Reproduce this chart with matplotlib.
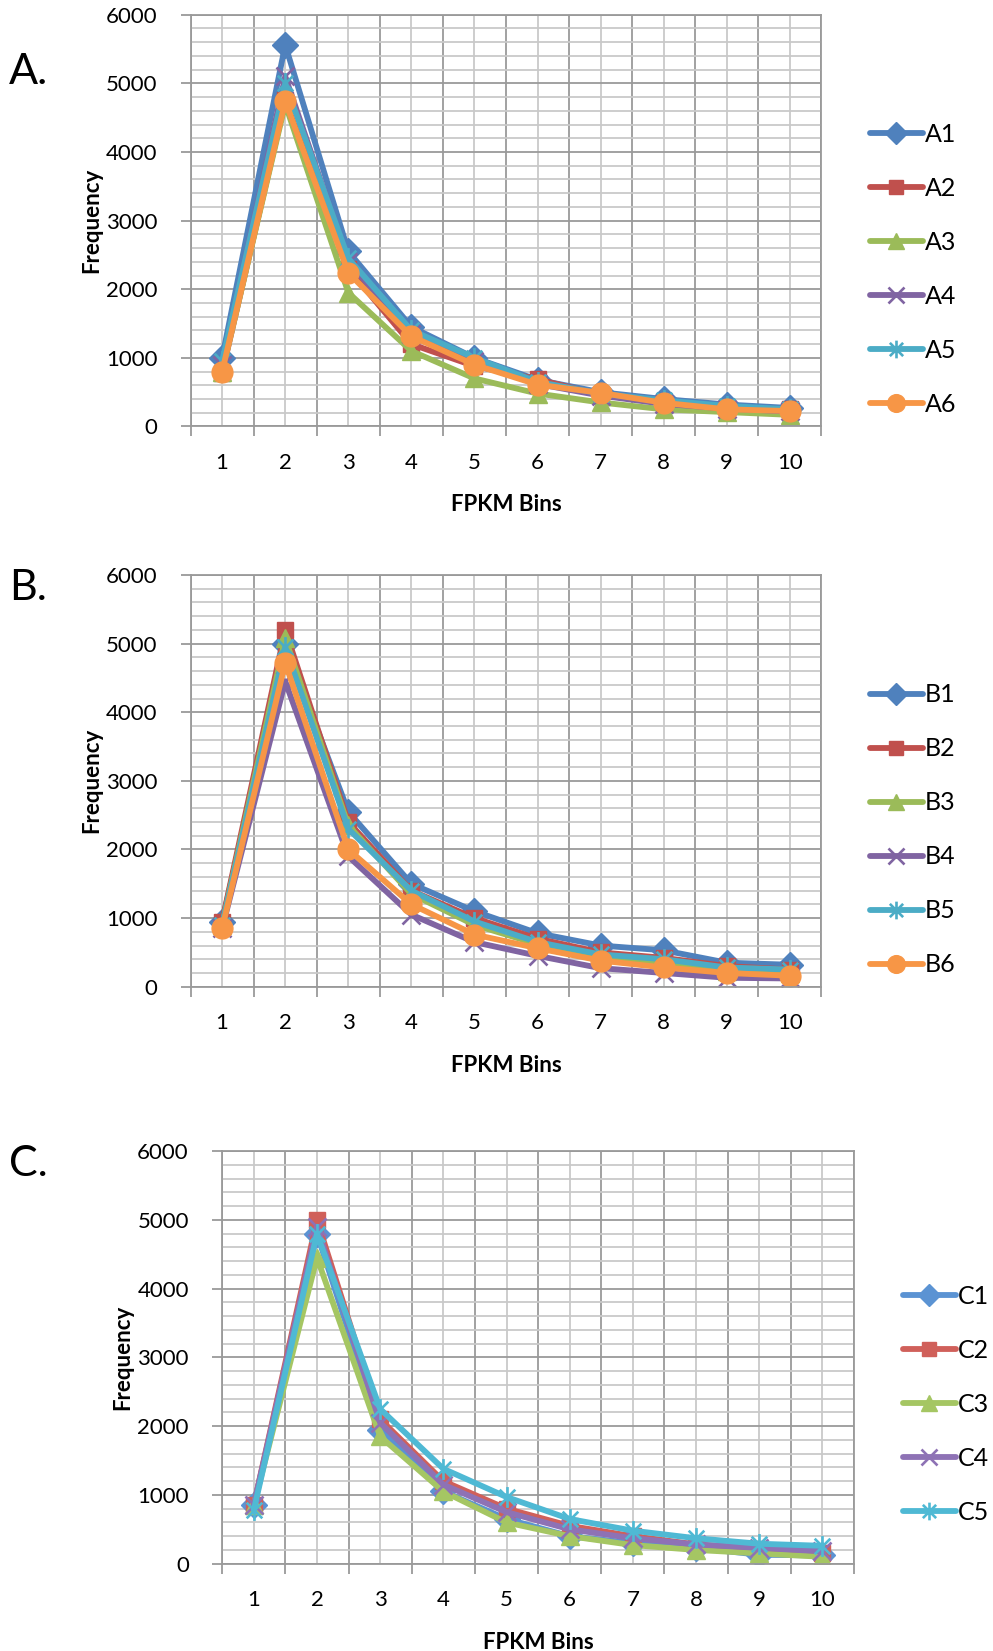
import matplotlib
matplotlib.use("Agg")
import matplotlib.pyplot as plt
from matplotlib.path import Path
from matplotlib.ticker import MultipleLocator, FixedLocator

plt.rcParams['font.family'] = ['Lato', 'DejaVu Sans']

bins = [1, 2, 3, 4, 5, 6, 7, 8, 9, 10]
bin_labels = ["1", "2", "3", "4", "5", "6", "7", "8", "9", "10"]

# Panel A
A1 = [1000, 5560, 2550, 1450, 1000, 680, 500, 400, 320, 270]
A2 = [780, 4750, 2300, 1200, 880, 690, 460, 340, 260, 250]
A3 = [800, 4700, 1950, 1100, 700, 480, 350, 250, 210, 170]
A4 = [900, 5100, 2400, 1350, 950, 620, 450, 330, 260, 220]
A5 = [950, 5000, 2450, 1400, 1000, 650, 480, 380, 300, 250]
A6 = [800, 4740, 2240, 1315, 900, 610, 490, 345, 250, 225]
labels_A = ["A1", "A2", "A3", "A4", "A5", "A6"]

# Panel B
B1 = [950, 5000, 2550, 1500, 1100, 780, 600, 530, 350, 320]
B2 = [950, 5200, 2400, 1400, 1000, 700, 500, 420, 300, 250]
B3 = [900, 5080, 2350, 1350, 900, 620, 430, 330, 230, 200]
B4 = [850, 4450, 1900, 1050, 650, 450, 270, 200, 130, 120]
B5 = [900, 4950, 2300, 1400, 950, 650, 470, 400, 280, 250]
B6 = [850, 4720, 2000, 1200, 760, 560, 380, 280, 200, 160]
labels_B = ["B1", "B2", "B3", "B4", "B5", "B6"]

# Panel C
C1 = [850, 4800, 1950, 1050, 650, 400, 300, 230, 130, 120]
C2 = [850, 5000, 2100, 1200, 800, 550, 400, 280, 220, 150]
C3 = [850, 4450, 1850, 1050, 600, 400, 270, 200, 150, 100]
C4 = [850, 4900, 2050, 1150, 750, 500, 370, 280, 230, 180]
C5 = [780, 4800, 2250, 1380, 970, 650, 480, 370, 290, 260]
labels_C = ["C1", "C2", "C3", "C4", "C5"]

colors_AB = ["#4F81BD", "#C0504D", "#9BBB59", "#8064A2", "#4BACC6", "#F79646"]
colors_C = ["#5B93D3", "#D0605A", "#A5C663", "#8E72B5", "#4FB9D4"]

# asterisk marker: vertical bar plus an X
star = Path([(0, -1), (0, 1), (-0.75, -0.75), (0.75, 0.75), (-0.75, 0.75), (0.75, -0.75)],
            [Path.MOVETO, Path.LINETO, Path.MOVETO, Path.LINETO, Path.MOVETO, Path.LINETO])
markers = ["D", "s", "^", "x", star, "o"]
msizes = [13, 12, 13, 13, 15, 15]

W, H = 993, 1651
fig = plt.figure(figsize=(W / 100, H / 100), dpi=100)

MAJ = "#9a9a9a"
MIN = "#c9c9c9"
FS = 16
LFS = 18


def setup(ax):
    ax.set_xlim(0.5, 10.5)
    ax.set_ylim(0, 6000)
    ax.set_xticks(bins)
    ax.set_xticklabels(bin_labels)
    ax.xaxis.set_minor_locator(FixedLocator([b - 0.5 for b in bins] + [10.5]))
    ax.yaxis.set_major_locator(MultipleLocator(1000))
    ax.yaxis.set_minor_locator(MultipleLocator(200))
    ax.tick_params(axis='x', which='major', length=0, pad=19, labelsize=FS)
    ax.tick_params(axis='x', which='minor', length=7, width=1.3, color=MAJ)
    ax.tick_params(axis='y', which='major', length=7, width=1.3, color=MAJ, pad=17, labelsize=FS)
    ax.tick_params(axis='y', which='minor', length=0)
    ax.grid(which='minor', axis='x', color=MAJ, linewidth=1.3)
    ax.grid(which='major', axis='x', color=MIN, linewidth=1.3)
    ax.grid(which='major', axis='y', color=MAJ, linewidth=1.3)
    ax.grid(which='minor', axis='y', color=MIN, linewidth=1.3)
    ax.set_axisbelow(True)
    for s in ax.spines.values():
        s.set_color(MAJ)
        s.set_linewidth(1.3)
    ax.set_xlabel("FPKM Bins", fontsize=FS, fontweight='bold')
    ax.xaxis.set_label_coords(0.5, -0.165)
    ax.set_ylabel("Frequency", fontsize=FS, fontweight='bold')
    ax.yaxis.set_label_coords(-0.140, 0.5)


def draw(ax, series, labels, colors):
    handles = []
    for i, (ys, lab) in enumerate(zip(series, labels)):
        mk = markers[i]
        kw = dict(color=colors[i], linewidth=4.2, marker=mk, markersize=msizes[i],
                  markerfacecolor=colors[i], markeredgecolor=colors[i], label=lab,
                  solid_capstyle='round', solid_joinstyle='round')
        if i in (3, 4):
            kw['markeredgewidth'] = 1.9
        h, = ax.plot(bins, ys, **kw)
        handles.append(h)
    return handles


def px_axes(left, top, right, bottom):
    return fig.add_axes([left / W, 1 - bottom / H, (right - left) / W, (bottom - top) / H])


axA = px_axes(190.6, 14.7, 821.4, 426.5)
setup(axA)
hA = draw(axA, [A1, A2, A3, A4, A5, A6], labels_A, colors_AB)

axB = px_axes(190.6, 575.0, 821.4, 986.7)
setup(axB)
hB = draw(axB, [B1, B2, B3, B4, B5, B6], labels_B, colors_AB)

axC = px_axes(222.2, 1151.0, 854.0, 1563.7)
setup(axC)
hC = draw(axC, [C1, C2, C3, C4, C5], labels_C, colors_C)


def legend(handles, x, yc):
    fig.legend(handles=handles, loc='center left', bbox_to_anchor=(x / W, 1 - yc / H),
               frameon=False, fontsize=LFS, handlelength=2.1, handletextpad=0.1,
               labelspacing=1.24, borderpad=0, borderaxespad=0, markerscale=0.85)


legend(hA, 870, 269.5)
legend(hB, 870, 829.8)
legend(hC, 903, 1404.6)

for lab, y in [("A.", 71.6), ("B.", 587.6), ("C.", 1163.6)]:
    fig.text(9 / W, 1 - y / H, lab, fontsize=31, ha='left', va='center')

fig.savefig("out.png", dpi=100)
